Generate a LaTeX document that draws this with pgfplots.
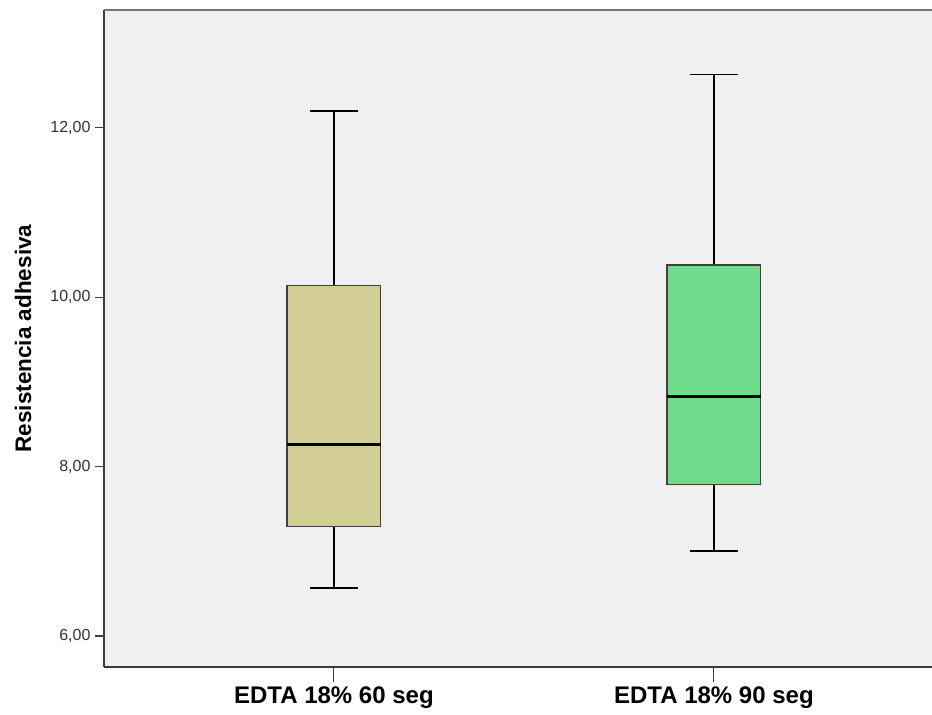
\documentclass[border=0pt]{standalone}
\usepackage{fontspec}
\setmainfont{Liberation Sans}
\usepackage{pgfplots}
\pgfplotsset{compat=1.18}
\usepgfplotslibrary{statistics}
\usetikzlibrary{calc}
\definecolor{bgc}{RGB}{240,240,240}
\definecolor{boxA}{RGB}{211,206,150}
\definecolor{boxB}{RGB}{112,220,138}
\definecolor{frameC}{RGB}{60,60,60}
\begin{document}
\begin{tikzpicture}
\begin{axis}[
  name=ax,
  scale only axis,
  width=828bp, height=657bp,
  xmin=-0.605, xmax=1.574,
  ymin=5.634, ymax=13.39,
  axis x line*=bottom,
  axis y line*=left,
  axis line style={frameC, line width=1.3bp, -},
  axis background/.style={fill=bgc},
  xtick={0,1},
  xticklabels={EDTA 18\% 60 seg, EDTA 18\% 90 seg},
  ytick={6,8,10,12},
  major tick length=0pt,
  x tick style={draw=none},
  y tick style={draw=none},
  xticklabel style={font=\fontsize{24bp}{28bp}\selectfont\bfseries, text=black, yshift=-16bp},
  yticklabel style={font=\fontsize{16bp}{19bp}\selectfont, text=black!80, xshift=-10bp},
  yticklabel={\pgfmathprintnumber[fixed, fixed zerofill, precision=2, use comma, assume math mode=true]{\tick}},
  every axis y label/.style={at={(rel axis cs:0,0.5)}, xshift=-81bp, rotate=90, anchor=center, font=\fontsize{22.5bp}{26bp}\selectfont\bfseries},
  ylabel={Resistencia adhesiva},
  clip=false,
  boxplot/draw direction=y,
  boxplot/box extend=0.247,
  boxplot/whisker extend=0.126,
]
\addplot[boxplot prepared={draw position=0, median=8.26, upper quartile=10.14, lower quartile=7.29, upper whisker=12.20, lower whisker=6.57,
  every box/.style={draw=black!75, line width=1.2bp, fill=boxA},
  every whisker/.style={black, line width=1.6bp},
  every median/.style={black, line width=3bp}}] coordinates {};
\addplot[boxplot prepared={draw position=1, median=8.83, upper quartile=10.38, lower quartile=7.79, upper whisker=12.63, lower whisker=7.00,
  every box/.style={draw=black!75, line width=1.2bp, fill=boxB},
  every whisker/.style={black, line width=1.6bp},
  every median/.style={black, line width=3bp}}] coordinates {};
\draw[frameC, line width=1.2bp] (axis cs:0,5.634) -- ([yshift=-15bp]axis cs:0,5.634);
\draw[frameC, line width=1.2bp] (axis cs:1,5.634) -- ([yshift=-15bp]axis cs:1,5.634);
\draw[frameC, line width=1.2bp] (axis cs:-0.605,6) -- ([xshift=-9bp]axis cs:-0.605,6);
\draw[frameC, line width=1.2bp] (axis cs:-0.605,8) -- ([xshift=-9bp]axis cs:-0.605,8);
\draw[frameC, line width=1.2bp] (axis cs:-0.605,10) -- ([xshift=-9bp]axis cs:-0.605,10);
\draw[frameC, line width=1.2bp] (axis cs:-0.605,12) -- ([xshift=-9bp]axis cs:-0.605,12);
\draw[black!55, line width=2bp] (rel axis cs:0,1) -- (rel axis cs:1,1);
\end{axis}
\pgfresetboundingbox
\useasboundingbox ($(ax.south west)+(-104bp,-48bp)$) rectangle ($(ax.north east)+(0,10bp)$);
\end{tikzpicture}
\end{document}
